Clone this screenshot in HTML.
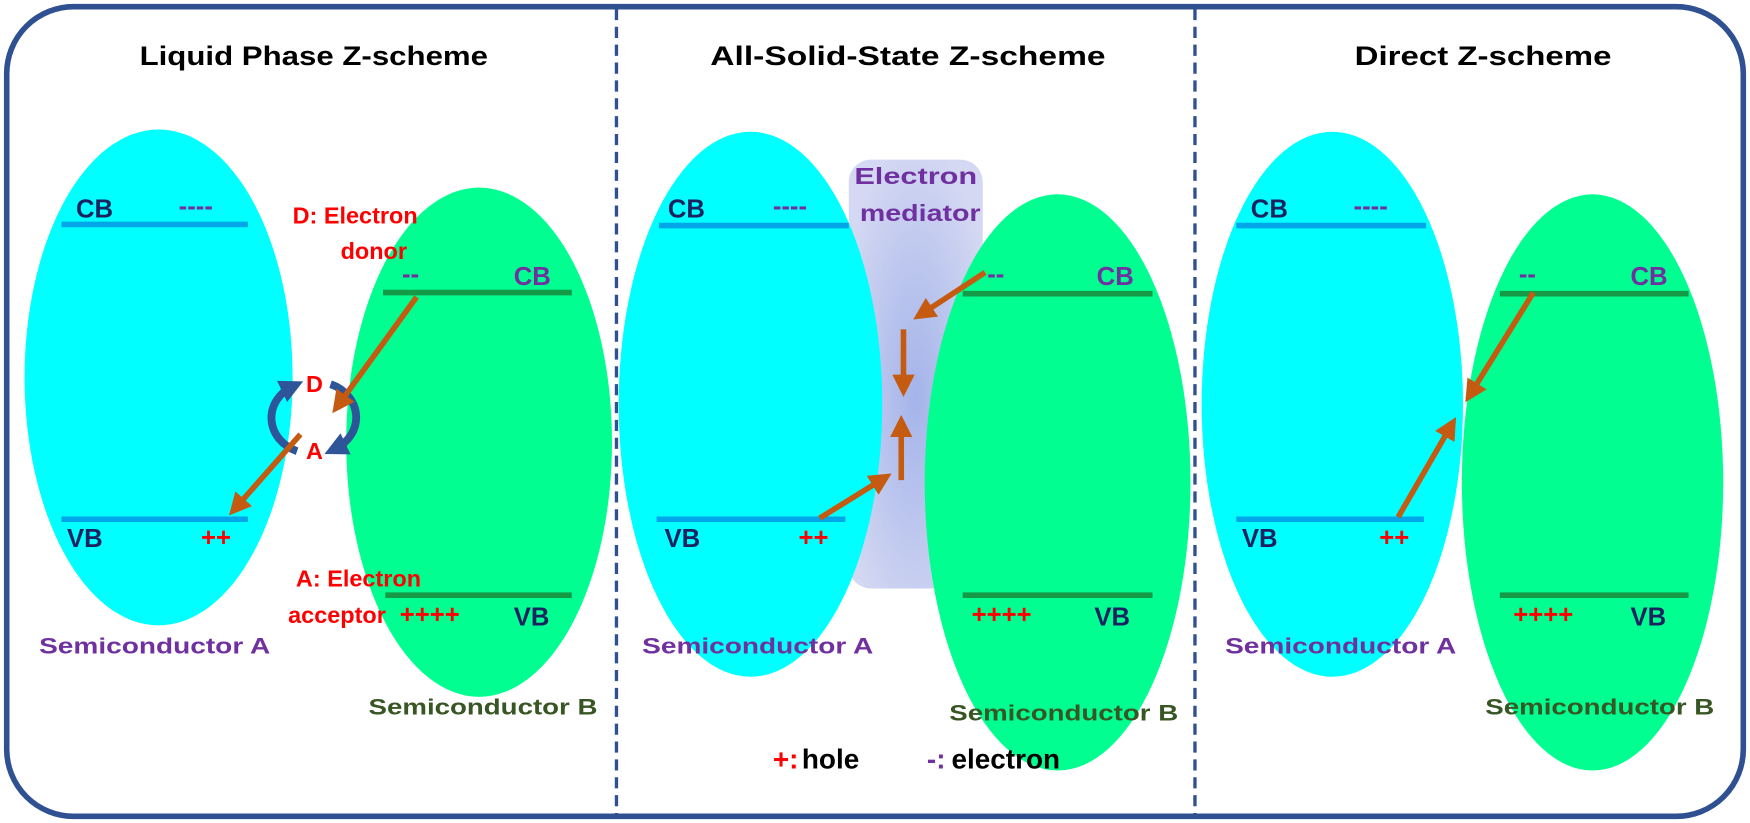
<!DOCTYPE html>
<html><head><meta charset="utf-8"><style>html,body{margin:0;padding:0;background:#fff}svg{display:block}text{font-family:"Liberation Sans",sans-serif;font-weight:bold}</style></head>
<body>
<svg width="1750" height="823" viewBox="0 0 1567 737" preserveAspectRatio="none" xmlns="http://www.w3.org/2000/svg">
<defs>
<marker id="ah" markerWidth="4" markerHeight="4" refX="2.5" refY="2" orient="auto" markerUnits="strokeWidth"><path d="M0,0 L4,2 L0,4 Z" fill="#c55a11"/></marker>
<marker id="bh" markerWidth="3" markerHeight="3" refX="1.5" refY="1.5" orient="auto" markerUnits="strokeWidth"><path d="M0,0 L3,1.5 L0,3 Z" fill="#2e5597"/></marker>
<radialGradient id="med" cx="0.5" cy="0.55" r="0.6"><stop offset="0" stop-color="#a4b4ea"/><stop offset="1" stop-color="#d4d8f2"/></radialGradient>
</defs>
<rect x="6" y="6" width="1555" height="725" rx="60" fill="#fff" stroke="#2f5091" stroke-width="5"/>

<g font-size="24" fill="#000">
<text x="125" y="58" textLength="312" lengthAdjust="spacingAndGlyphs">Liquid Phase Z-scheme</text>
<text x="636" y="58" textLength="354" lengthAdjust="spacingAndGlyphs">All-Solid-State Z-scheme</text>
<text x="1213" y="58" textLength="230" lengthAdjust="spacingAndGlyphs">Direct Z-scheme</text>
</g>

<!-- Panel 1 -->
<ellipse cx="142" cy="338" rx="120" ry="222" fill="#00ffff"/>
<ellipse cx="429" cy="396" rx="119" ry="228" fill="#00ff90"/>
<!-- Panel 2 -->
<rect x="760" y="143" width="120" height="384" rx="20" fill="url(#med)"/>
<ellipse cx="672" cy="362" rx="118" ry="244" fill="#00ffff"/>
<ellipse cx="947" cy="432" rx="119" ry="258" fill="#00ff90"/>
<!-- Panel 3 -->
<ellipse cx="1193" cy="362" rx="117" ry="244" fill="#00ffff"/>
<ellipse cx="1426" cy="432" rx="117" ry="258" fill="#00ff90"/>

<line x1="552" y1="8" x2="552" y2="730" stroke="#2f5091" stroke-width="3" stroke-dasharray="10,6"/>
<line x1="1070" y1="8" x2="1070" y2="730" stroke="#2f5091" stroke-width="3" stroke-dasharray="10,6"/>

<g stroke-width="5">
<line x1="55" y1="201" x2="222" y2="201" stroke="#00a6e8"/>
<line x1="55" y1="465" x2="222" y2="465" stroke="#00a6e8"/>
<line x1="343" y1="262" x2="512" y2="262" stroke="#159a48"/>
<line x1="345" y1="533" x2="512" y2="533" stroke="#159a48"/>
<line x1="590" y1="202" x2="760" y2="202" stroke="#00a6e8"/>
<line x1="588" y1="465" x2="757" y2="465" stroke="#00a6e8"/>
<line x1="862" y1="263" x2="1032" y2="263" stroke="#159a48"/>
<line x1="862" y1="533" x2="1032" y2="533" stroke="#159a48"/>
<line x1="1107" y1="202" x2="1277" y2="202" stroke="#00a6e8"/>
<line x1="1107" y1="465" x2="1275" y2="465" stroke="#00a6e8"/>
<line x1="1343" y1="263" x2="1512" y2="263" stroke="#159a48"/>
<line x1="1343" y1="533" x2="1512" y2="533" stroke="#159a48"/>
</g>

<g font-size="23">
<text x="68" y="195" fill="#1a2360">CB</text>
<text x="160" y="192" fill="#7030a0">----</text>
<text x="60" y="490" fill="#1a2360">VB</text>
<text x="180" y="489" fill="#ff0000">++</text>
<text x="360" y="253" fill="#7030a0">--</text>
<text x="460" y="255" fill="#7030a0">CB</text>
<text x="358" y="558" fill="#ff0000">++++</text>
<text x="460" y="560" fill="#1a2360">VB</text>
<text x="598" y="195" fill="#1a2360">CB</text>
<text x="692" y="192" fill="#7030a0">----</text>
<text x="595" y="490" fill="#1a2360">VB</text>
<text x="715" y="489" fill="#ff0000">++</text>
<text x="884" y="253" fill="#7030a0">--</text>
<text x="982" y="255" fill="#7030a0">CB</text>
<text x="870" y="558" fill="#ff0000">++++</text>
<text x="980" y="560" fill="#1a2360">VB</text>
<text x="1120" y="195" fill="#1a2360">CB</text>
<text x="1212" y="192" fill="#7030a0">----</text>
<text x="1112" y="490" fill="#1a2360">VB</text>
<text x="1235" y="489" fill="#ff0000">++</text>
<text x="1360" y="253" fill="#7030a0">--</text>
<text x="1460" y="255" fill="#7030a0">CB</text>
<text x="1355" y="558" fill="#ff0000">++++</text>
<text x="1460" y="560" fill="#1a2360">VB</text>
</g>

<g font-size="21" fill="#ff0000">
<text x="262" y="200" textLength="112" lengthAdjust="spacingAndGlyphs">D: Electron</text>
<text x="305" y="232">donor</text>
<text x="265" y="525" textLength="112" lengthAdjust="spacingAndGlyphs">A: Electron</text>
<text x="258" y="558">acceptor</text>
<text x="274" y="351">D</text>
<text x="274" y="411">A</text>
</g>
<g font-size="20" fill="#7030a0">
<text x="35" y="585" textLength="207" lengthAdjust="spacingAndGlyphs">Semiconductor A</text>
<text x="575" y="585" textLength="207" lengthAdjust="spacingAndGlyphs">Semiconductor A</text>
<text x="1097" y="585" textLength="207" lengthAdjust="spacingAndGlyphs">Semiconductor A</text>
<text x="765" y="165" font-size="21" textLength="110" lengthAdjust="spacingAndGlyphs">Electron</text>
<text x="770" y="198" font-size="21" textLength="108" lengthAdjust="spacingAndGlyphs">mediator</text>
</g>
<g font-size="20" fill="#375623">
<text x="330" y="640" textLength="205" lengthAdjust="spacingAndGlyphs">Semiconductor B</text>
<text x="850" y="645" textLength="205" lengthAdjust="spacingAndGlyphs">Semiconductor B</text>
<text x="1330" y="640" textLength="205" lengthAdjust="spacingAndGlyphs">Semiconductor B</text>
</g>
<text x="692" y="688" font-size="25" fill="#ff0000">+:</text>
<text x="718" y="688" font-size="25" fill="#000">hole</text>
<text x="830" y="688" font-size="25" fill="#7030a0">-:</text>
<text x="852" y="688" font-size="25" fill="#000">electron</text>

<path d="M266,404 A36,32 0 0 1 262,346" fill="none" stroke="#2e5597" stroke-width="7" marker-end="url(#bh)"/>
<path d="M296,344 A36,32 0 0 1 300,402" fill="none" stroke="#2e5597" stroke-width="7" marker-end="url(#bh)"/>

<g stroke="#c55a11" stroke-width="5" fill="none" marker-end="url(#ah)">
<line x1="373" y1="266" x2="302" y2="364"/>
<line x1="269" y1="389" x2="210" y2="456"/>
<line x1="882" y1="244" x2="824" y2="282"/>
<line x1="809" y1="295" x2="809" y2="348"/>
<line x1="807" y1="430" x2="807" y2="379"/>
<line x1="734" y1="464" x2="792" y2="428"/>
<line x1="1373" y1="262" x2="1316" y2="354"/>
<line x1="1252" y1="463" x2="1300" y2="380"/>
</g>
</svg>
</body></html>
